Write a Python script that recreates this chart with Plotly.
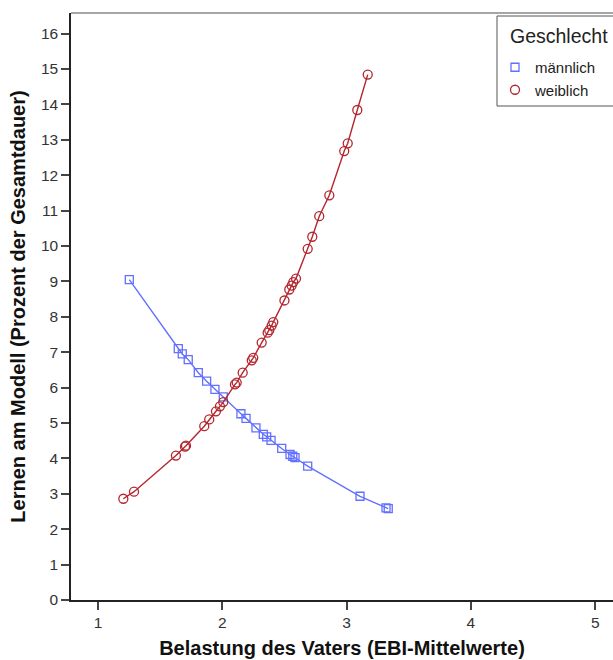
import plotly.graph_objects as go

# Data
male_x = [1.252, 1.646, 1.678, 1.726, 1.807, 1.874, 1.941, 2.008, 2.150, 2.191, 2.271,
          2.330, 2.357, 2.392, 2.478, 2.545, 2.567, 2.585, 2.687, 3.108, 3.317, 3.335]
male_y = [9.05, 7.10, 6.95, 6.79, 6.42, 6.18, 5.95, 5.74, 5.26, 5.13, 4.86,
          4.68, 4.61, 4.51, 4.28, 4.11, 4.06, 4.02, 3.78, 2.93, 2.60, 2.58]

female_x = [1.204, 1.290, 1.627, 1.700, 1.708, 1.855, 1.895, 1.949, 1.981, 2.008, 2.102,
            2.116, 2.164, 2.237, 2.249, 2.317, 2.365, 2.378, 2.397, 2.410, 2.500, 2.539,
            2.558, 2.571, 2.593, 2.687, 2.724, 2.780, 2.861, 2.981, 3.009, 3.086, 3.170]
female_y = [2.86, 3.06, 4.08, 4.33, 4.36, 4.91, 5.10, 5.33, 5.47, 5.59, 6.09,
            6.14, 6.42, 6.77, 6.84, 7.27, 7.55, 7.62, 7.75, 7.85, 8.46, 8.77,
            8.88, 8.98, 9.08, 9.92, 10.26, 10.84, 11.43, 12.68, 12.90, 13.84, 14.84]

x_ticks = [1, 2, 3, 4, 5]
y_ticks = list(range(0, 17))
legend_title = "Geschlecht"

blue = "#6370ff"
red = "#b3262e"
font_family = "Liberation Sans, Arial, sans-serif"

W, H = 613, 660
ML, MR, MT, MB = 71, 0, 13, 60
PW, PH = W - ML - MR, H - MT - MB


def px_x(p):
    return (p - ML) / PW


def px_y(p):
    return 1 - (p - MT) / PH


fig = go.Figure()
for xs, ys, name, col, sym, sz in [
    (male_x, male_y, "männlich", blue, "square-open", 8),
    (female_x, female_y, "weiblich", red, "circle-open", 9),
]:
    fig.add_trace(go.Scatter(
        x=xs, y=ys, mode="lines", showlegend=False, hoverinfo="skip",
        line=dict(color=col, width=1.4),
    ))
    fig.add_trace(go.Scatter(
        x=xs, y=ys, mode="markers", name=name,
        marker=dict(symbol=sym, size=sz, color=col, line=dict(width=1.3)),
    ))

fig.update_layout(
    width=W, height=H,
    margin=dict(l=ML, r=MR, t=MT, b=MB),
    paper_bgcolor="white", plot_bgcolor="white",
    font=dict(family=font_family, color="#333333", size=15),
    showlegend=True,
    legend=dict(
        x=px_x(495), y=px_y(51), xanchor="left", yanchor="top",
        borderwidth=0, bgcolor="rgba(0,0,0,0)",
        font=dict(size=15, color="#222222"),
        itemwidth=30, tracegroupgap=0,
    ),
    xaxis=dict(
        range=[0.783, 5.143], tickvals=x_ticks, ticktext=[str(v) for v in x_ticks],
        showgrid=False, zeroline=False, showline=True, linecolor="#222222", linewidth=1.5,
        ticks="outside", ticklen=8, tickcolor="#444444", tickwidth=1.5,
        tickfont=dict(size=15.5, color="#333333"),
        title=dict(text="<b>Belastung des Vaters (EBI-Mittelwerte)</b>",
                   font=dict(size=20, color="#111111"), standoff=11),
    ),
    yaxis=dict(
        range=[0, 16.58], tickvals=y_ticks, ticktext=[str(v) for v in y_ticks],
        showgrid=False, zeroline=False, showline=True, linecolor="#222222", linewidth=1.5,
        ticks="outside", ticklen=8, tickcolor="#444444", tickwidth=1.5,
        tickfont=dict(size=15.5, color="#333333"),
        title=dict(text="<b>Lernen am Modell (Prozent der Gesamtdauer)</b>",
                   font=dict(size=20, color="#111111"), standoff=10),
    ),
    shapes=[
        dict(type="line", xref="paper", yref="paper", x0=0, x1=1.05, y0=1, y1=1,
             line=dict(color="#888888", width=1.5)),
        dict(type="rect", xref="paper", yref="paper",
             x0=px_x(497), x1=px_x(660), y0=px_y(16), y1=px_y(106),
             line=dict(color="#555555", width=1), fillcolor="white", layer="below"),
    ],
    annotations=[
        dict(text=legend_title, xref="paper", yref="paper", x=px_x(508), y=px_y(36),
             xanchor="left", yanchor="middle", showarrow=False,
             font=dict(size=19.5, color="#222222")),
    ],
)

fig.write_html("out.html")
